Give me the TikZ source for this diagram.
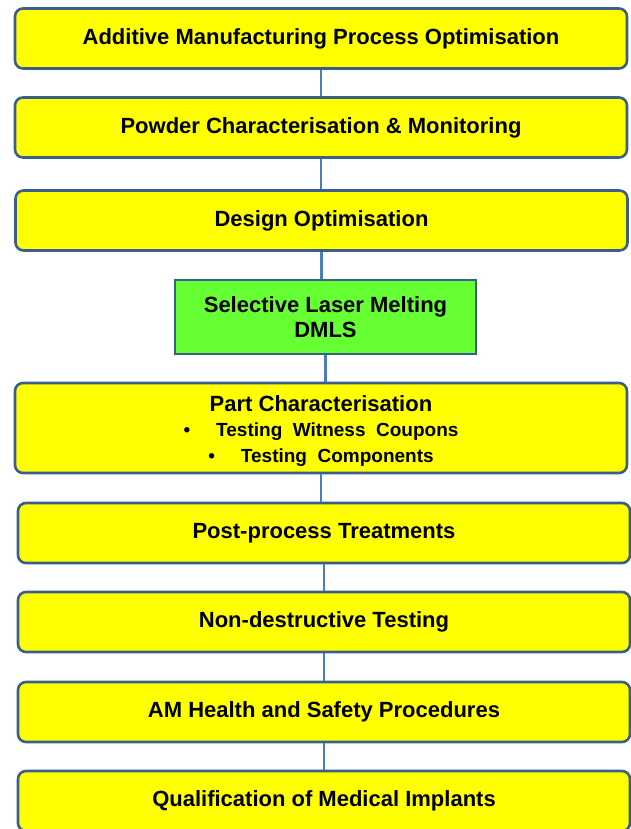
\documentclass[tikz,border=0pt]{standalone}
\usepackage{fontspec}
\setmainfont{Liberation Sans}
\usepackage{tikz}

\definecolor{boxline}{RGB}{58,95,139}
\definecolor{linkline}{RGB}{74,126,187}
\definecolor{boxyellow}{RGB}{255,255,0}
\definecolor{boxgreen}{RGB}{102,255,51}

\begin{document}
\begin{tikzpicture}[x=1pt, y=-1pt,
    stage/.style={draw=boxline, line width=2.6pt, fill=boxyellow, rounded corners=8pt,
        minimum width=612pt, minimum height=60pt, inner sep=0pt, align=center,
        font=\fontsize{22}{25.5}\selectfont\bfseries},
    core/.style={stage, fill=boxgreen, rounded corners=0pt, minimum width=301pt, minimum height=74pt},
    link/.style={draw=linkline, line width=2.6pt}]
                \useasboundingbox (0,0) rectangle (631,829);
                \node[stage] (amp) at (321,38.5) {Additive Manufacturing Process Optimisation};
                \node[stage] (powder) at (321,127.5) {Powder Characterisation \& Monitoring};
                \node[stage] (design) at (321.5,220.5) {Design Optimisation};
                \node[core] (slm) at (325.5,317) {Selective Laser Melting\\DMLS};
                \node[stage, minimum height=90pt] (part) at (321,428) {\rule{0pt}{22pt}Part Characterisation\\
                    {\fontsize{19}{25}\selectfont\textbullet\hspace{26pt}Testing\ \ Witness\ \ Coupons}\\
                    {\fontsize{19}{25}\selectfont\textbullet\hspace{26pt}Testing\ \ Components}};
                \node[stage] (post) at (324,533) {Post-process Treatments};
                \node[stage] (ndt) at (324,622) {Non-destructive Testing};
                \node[stage] (hse) at (324,712) {AM Health and Safety Procedures};
                \node[stage] (qual) at (324,801) {Qualification of Medical Implants};
                % vertical links, dropped from the upper box
                \foreach \a/\b in {amp/powder, powder/design, design/slm, slm/part,
                    part/post, post/ndt, ndt/hse, hse/qual}
                    \draw[link] (\a.south) -- (\a.south |- \b.north);
            \end{tikzpicture}
\end{document}
